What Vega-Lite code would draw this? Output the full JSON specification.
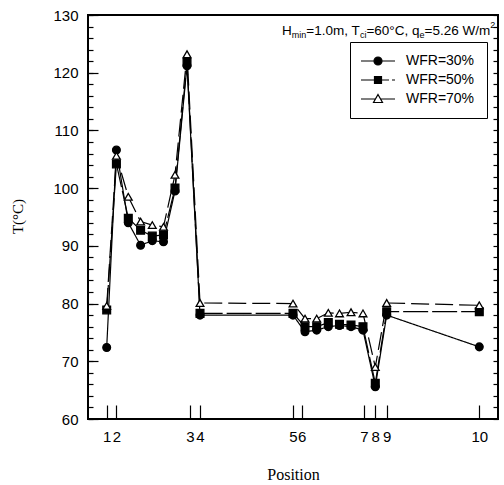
{
  "$schema": "https://vega.github.io/schema/vega-lite/v6.json",
  "width": 410,
  "height": 404,
  "autosize": "none",
  "padding": {"left": 88, "top": 15, "right": 6, "bottom": 66},
  "background": "white",
  "datasets": {
    "main": [
      {"series": "WFR=30%", "pos": 4.56, "T": 72.4},
      {"series": "WFR=30%", "pos": 6.93, "T": 106.6},
      {"series": "WFR=30%", "pos": 9.83, "T": 94.0},
      {"series": "WFR=30%", "pos": 12.83, "T": 90.1},
      {"series": "WFR=30%", "pos": 15.68, "T": 90.9},
      {"series": "WFR=30%", "pos": 18.41, "T": 90.7},
      {"series": "WFR=30%", "pos": 21.22, "T": 99.5},
      {"series": "WFR=30%", "pos": 24.15, "T": 121.2},
      {"series": "WFR=30%", "pos": 27.32, "T": 78.0},
      {"series": "WFR=30%", "pos": 50.0, "T": 78.0},
      {"series": "WFR=30%", "pos": 52.93, "T": 75.1},
      {"series": "WFR=30%", "pos": 55.78, "T": 75.4},
      {"series": "WFR=30%", "pos": 58.61, "T": 76.0},
      {"series": "WFR=30%", "pos": 61.34, "T": 76.2},
      {"series": "WFR=30%", "pos": 64.15, "T": 76.0},
      {"series": "WFR=30%", "pos": 67.07, "T": 75.4},
      {"series": "WFR=30%", "pos": 70.07, "T": 65.6},
      {"series": "WFR=30%", "pos": 72.85, "T": 78.0},
      {"series": "WFR=30%", "pos": 95.44, "T": 72.5},
      {"series": "WFR=50%", "pos": 4.56, "T": 78.9},
      {"series": "WFR=50%", "pos": 6.93, "T": 104.2},
      {"series": "WFR=50%", "pos": 9.83, "T": 94.8},
      {"series": "WFR=50%", "pos": 12.83, "T": 92.7},
      {"series": "WFR=50%", "pos": 15.68, "T": 91.7},
      {"series": "WFR=50%", "pos": 18.41, "T": 91.9},
      {"series": "WFR=50%", "pos": 21.22, "T": 100.0},
      {"series": "WFR=50%", "pos": 24.15, "T": 121.8},
      {"series": "WFR=50%", "pos": 27.32, "T": 78.3},
      {"series": "WFR=50%", "pos": 50.0, "T": 78.3},
      {"series": "WFR=50%", "pos": 52.93, "T": 76.0},
      {"series": "WFR=50%", "pos": 55.78, "T": 76.0},
      {"series": "WFR=50%", "pos": 58.61, "T": 76.7},
      {"series": "WFR=50%", "pos": 61.34, "T": 76.4},
      {"series": "WFR=50%", "pos": 64.15, "T": 76.3},
      {"series": "WFR=50%", "pos": 67.07, "T": 76.0},
      {"series": "WFR=50%", "pos": 70.07, "T": 66.2},
      {"series": "WFR=50%", "pos": 72.85, "T": 78.6},
      {"series": "WFR=50%", "pos": 95.44, "T": 78.6},
      {"series": "WFR=70%", "pos": 4.56, "T": 79.6},
      {"series": "WFR=70%", "pos": 6.93, "T": 105.6},
      {"series": "WFR=70%", "pos": 9.83, "T": 98.5},
      {"series": "WFR=70%", "pos": 12.83, "T": 94.2},
      {"series": "WFR=70%", "pos": 15.68, "T": 93.6},
      {"series": "WFR=70%", "pos": 18.41, "T": 93.3},
      {"series": "WFR=70%", "pos": 21.22, "T": 102.3},
      {"series": "WFR=70%", "pos": 24.15, "T": 123.2},
      {"series": "WFR=70%", "pos": 27.32, "T": 80.1},
      {"series": "WFR=70%", "pos": 50.0, "T": 80.0},
      {"series": "WFR=70%", "pos": 52.93, "T": 77.4},
      {"series": "WFR=70%", "pos": 55.78, "T": 77.4},
      {"series": "WFR=70%", "pos": 58.61, "T": 78.4},
      {"series": "WFR=70%", "pos": 61.34, "T": 78.3},
      {"series": "WFR=70%", "pos": 64.15, "T": 78.5},
      {"series": "WFR=70%", "pos": 67.07, "T": 78.3},
      {"series": "WFR=70%", "pos": 70.07, "T": 69.0},
      {"series": "WFR=70%", "pos": 72.85, "T": 80.1},
      {"series": "WFR=70%", "pos": 95.44, "T": 79.7}
    ],
    "note": [{"pos": 47.32, "T": 126.53}]
  },
  "encoding": {
    "x": {"field": "pos", "type": "quantitative", "scale": {"domain": [0, 100], "nice": false, "zero": false}, "axis": null},
    "y": {"field": "T", "type": "quantitative", "scale": {"domain": [60, 130], "nice": false, "zero": false}, "axis": null}
  },
  "layer": [
    {
      "data": {"name": "main"},
      "mark": {"type": "line", "color": "black", "strokeWidth": 1.2},
      "encoding": {
        "x": {
          "field": "pos", "type": "quantitative",
          "scale": {"domain": [0, 100], "nice": false, "zero": false},
          "axis": {
            "orient": "bottom",
            "title": "Position", "titleFont": "Liberation Serif", "titleFontSize": 16, "titleFontWeight": "normal",
            "titleY": 55, "titleBaseline": "middle",
            "values": [4.56, 6.93, 24.88, 27.32, 50, 52.12, 67.32, 70.07, 72.85, 95.44],
            "labelExpr": "datum.value < 5 ? '1' : datum.value < 10 ? '2' : datum.value < 25 ? '3' : datum.value < 30 ? '4' : datum.value < 51 ? '5' : datum.value < 60 ? '6' : datum.value < 68 ? '7' : datum.value < 71 ? '8' : datum.value < 80 ? '9' : '10'",
            "labelFontSize": 15, "labelPadding": 24, "labelOverlap": false, "labelFlush": false,
            "tickSize": -14, "tickWidth": 1.2, "domain": false, "grid": false
          }
        },
        "y": {
          "field": "T", "type": "quantitative",
          "scale": {"domain": [60, 130], "nice": false, "zero": false},
          "axis": {
            "orient": "left",
            "title": "T(°C)", "titleFont": "Liberation Serif", "titleFontSize": 15, "titleFontWeight": "normal",
            "titleX": -63, "titleY": 201,
            "values": [60, 62, 64, 66, 68, 70, 72, 74, 76, 78, 80, 82, 84, 86, 88, 90, 92, 94, 96, 98, 100, 102, 104, 106, 108, 110, 112, 114, 116, 118, 120, 122, 124, 126, 128, 130],
            "labelExpr": "datum.value % 10 === 0 ? datum.label : ''",
            "labelFontSize": 15, "labelPadding": 15, "labelOverlap": false, "labelFlush": false,
            "tickSize": -5, "tickWidth": 1.2, "domain": false, "grid": false
          }
        },
        "detail": {"field": "series", "type": "nominal"},
        "strokeDash": {
          "condition": [
            {"test": "datum.series === 'WFR=50%'", "value": [25, 4]},
            {"test": "datum.series === 'WFR=70%'", "value": [18, 6]}
          ],
          "value": [1, 0]
        }
      }
    },
    {
      "data": {"name": "main"},
      "mark": {"type": "point", "stroke": "black", "strokeWidth": 1.3, "opacity": 1, "fillOpacity": 1, "size": 60},
      "encoding": {
        "x": {"field": "pos", "type": "quantitative", "scale": {"domain": [0, 100], "nice": false, "zero": false}, "axis": null},
        "y": {
          "field": "T", "type": "quantitative",
          "scale": {"domain": [60, 130], "nice": false, "zero": false},
          "axis": {
            "orient": "left", "title": null, "labels": false,
            "values": [60, 70, 80, 90, 100, 110, 120, 130],
            "tickSize": -10, "tickWidth": 1.2, "domain": false, "grid": false
          }
        },
        "shape": {
          "condition": [
            {"test": "datum.series === 'WFR=50%'", "value": "square"},
            {"test": "datum.series === 'WFR=70%'", "value": "triangle-up"}
          ],
          "value": "circle"
        },
        "fill": {
          "condition": {"test": "datum.series === 'WFR=70%'", "value": "white"},
          "value": "black"
        }
      }
    },
    {
      "data": {"name": "main"},
      "mark": {"type": "point", "filled": false, "strokeWidth": 1.2, "opacity": 1, "size": 0},
      "encoding": {
        "shape": {
          "field": "series", "type": "nominal",
          "scale": {
            "domain": ["WFR=30%", "WFR=50%", "WFR=70%"],
            "range": [
              "M-3.4,0H-0.8M0.8,0H3.4M0.8,0A0.8,0.8,0,1,1,-0.8,0A0.8,0.8,0,1,1,0.8,0Z",
              "M-3.4,0H-0.7M0.7,0H2.2M2.8,0H3.4M-0.7,-0.7H0.7V0.7H-0.7Z",
              "M-3.4,0H-0.5M0.5,0H3.4M0,-0.9L0.9,0.7L-0.9,0.7Z"
            ]
          },
          "legend": {
            "title": null, "orient": "none", "legendX": 262, "legendY": 27,
            "strokeColor": "black", "fillColor": "white", "padding": 12,
            "symbolSize": 100, "symbolOffset": 9, "labelOffset": 21, "rowPadding": 5,
            "symbolStrokeWidth": 1.2,
            "labelFont": "Liberation Sans", "labelFontSize": 14, "labelColor": "black"
          }
        },
        "fill": {
          "field": "series", "type": "nominal",
          "scale": {"domain": ["WFR=30%", "WFR=50%", "WFR=70%"], "range": ["black", "black", "white"]},
          "legend": {"title": null, "orient": "none", "legendX": 262, "legendY": 27}
        },
        "stroke": {
          "field": "series", "type": "nominal",
          "scale": {"domain": ["WFR=30%", "WFR=50%", "WFR=70%"], "range": ["black", "black", "black"]},
          "legend": {"title": null, "orient": "none", "legendX": 262, "legendY": 27}
        }
      }
    },
    {
      "data": {"name": "note"},
      "mark": {"type": "text", "text": "H", "font": "Liberation Sans", "fontSize": 13.5, "align": "left", "baseline": "alphabetic", "color": "black"},
      "encoding": {
        "y": {
          "field": "T", "type": "quantitative",
          "scale": {"domain": [60, 130], "nice": false, "zero": false},
          "axis": {
            "orient": "right", "title": null, "labels": false,
            "values": [60, 62, 64, 66, 68, 70, 72, 74, 76, 78, 80, 82, 84, 86, 88, 90, 92, 94, 96, 98, 100, 102, 104, 106, 108, 110, 112, 114, 116, 118, 120, 122, 124, 126, 128, 130],
            "tickSize": -5, "tickWidth": 1.2, "domain": false, "grid": false
          }
        }
      }
    },
    {"data": {"name": "note"}, "mark": {"type": "text", "text": "min", "dx": 9.75, "dy": 3, "font": "Liberation Sans", "fontSize": 9, "align": "left", "baseline": "alphabetic", "color": "black"}},
    {"data": {"name": "note"}, "mark": {"type": "text", "text": "=1.0m, T", "dx": 24.25, "font": "Liberation Sans", "fontSize": 13.5, "align": "left", "baseline": "alphabetic", "color": "black"}},
    {"data": {"name": "note"}, "mark": {"type": "text", "text": "ci", "dx": 77.9, "dy": 3, "font": "Liberation Sans", "fontSize": 9, "align": "left", "baseline": "alphabetic", "color": "black"}},
    {"data": {"name": "note"}, "mark": {"type": "text", "text": "=60°C, q", "dx": 84.4, "font": "Liberation Sans", "fontSize": 13.5, "align": "left", "baseline": "alphabetic", "color": "black"}},
    {"data": {"name": "note"}, "mark": {"type": "text", "text": "e", "dx": 137.5, "dy": 3, "font": "Liberation Sans", "fontSize": 9, "align": "left", "baseline": "alphabetic", "color": "black"}},
    {"data": {"name": "note"}, "mark": {"type": "text", "text": "=5.26 W/m", "dx": 142.5, "font": "Liberation Sans", "fontSize": 13.5, "align": "left", "baseline": "alphabetic", "color": "black"}},
    {"data": {"name": "note"}, "mark": {"type": "text", "text": "2", "dx": 208.3, "dy": -7, "font": "Liberation Sans", "fontSize": 9, "align": "left", "baseline": "alphabetic", "color": "black"}}
  ],
  "resolve": {"axis": {"x": "independent", "y": "independent"}},
  "config": {
    "font": "Liberation Sans",
    "view": {"stroke": "black", "strokeWidth": 2},
    "axis": {"labelColor": "black", "titleColor": "black", "tickColor": "black", "labelFont": "Liberation Sans", "grid": false}
  }
}
